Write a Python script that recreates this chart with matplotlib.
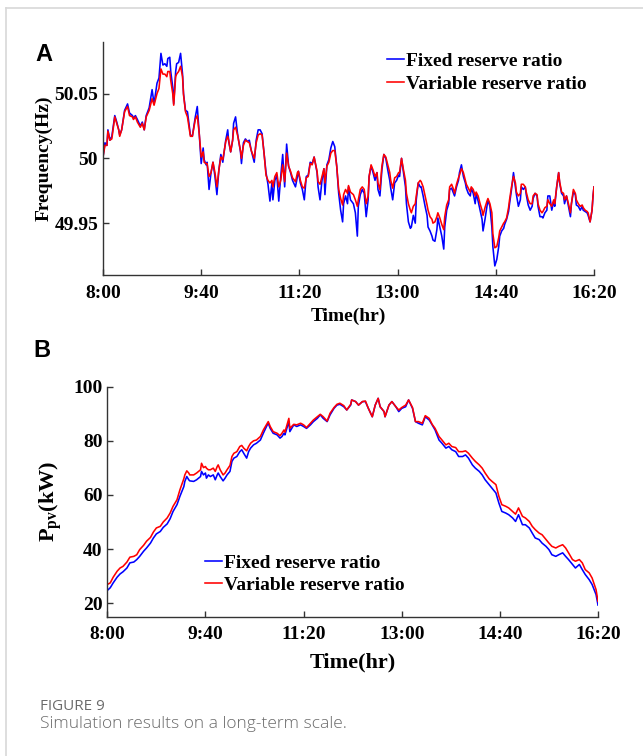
import matplotlib
matplotlib.use("Agg")
import matplotlib.pyplot as plt
from matplotlib.lines import Line2D

# --- dados ---
# minutos desde as 8:00
t_freq = [0, 2, 4, 5, 7, 9, 12, 14, 16, 17, 19, 22, 25, 27, 30, 31, 33, 35, 38, 40,
          42, 44, 47, 50, 52, 55, 57, 59, 61, 63, 65, 66, 68, 69, 71, 72, 74, 75, 77, 79,
          81, 82, 84, 86, 89, 91, 94, 96, 98, 100, 102, 103, 105, 106, 108, 110, 112, 114, 116, 118,
          120, 122, 125, 127, 128, 130, 132, 133, 135, 137, 140, 141, 143, 145, 147, 149, 151, 154, 156, 158,
          160, 162, 164, 166, 168, 170, 172, 173, 175, 177, 179, 181, 183, 185, 187, 189, 191, 193, 196, 198,
          199, 201, 203, 205, 207, 209, 211, 213, 215, 218, 219, 221, 223, 225, 226, 228, 230, 232, 234, 236,
          238, 240, 242, 244, 245, 247, 249, 250, 252, 255, 257, 259, 260, 262, 264, 266, 268, 270, 271, 273,
          275, 277, 279, 280, 282, 284, 286, 288, 290, 292, 293, 295, 297, 299, 301, 302, 304, 306, 308, 309,
          311, 313, 314, 316, 318, 319, 321, 323, 324, 326, 328, 330, 331, 333, 335, 336, 338, 340, 341, 343,
          345, 347, 348, 350, 352, 353, 355, 357, 358, 360, 362, 363, 365, 367, 369, 370, 372, 374, 375, 377,
          379, 380, 382, 384, 386, 387, 389, 391, 392, 394, 396, 397, 399, 401, 403, 404, 406, 408, 409, 411,
          413, 414, 416, 418, 420, 421, 423, 425, 426, 428, 430, 431, 433, 435, 437, 438, 440, 442, 443, 445,
          447, 448, 450, 452, 453, 455, 457, 459, 460, 462, 464, 465, 467, 469, 470, 472, 474, 476, 477, 479,
          481, 482, 484, 486, 488, 489, 491, 493, 494, 496, 498, 499, 500]

freq_fixed = [50.001, 50.012, 50.010, 50.022, 50.014, 50.017, 50.033, 50.028, 50.022, 50.018,
              50.022, 50.037, 50.042, 50.035, 50.033, 50.031, 50.033, 50.030, 50.025, 50.028,
              50.022, 50.033, 50.039, 50.053, 50.042, 50.058, 50.062, 50.081, 50.072, 50.073,
              50.071, 50.077, 50.078, 50.067, 50.055, 50.042, 50.067, 50.073, 50.074, 50.081,
              50.065, 50.050, 50.037, 50.036, 50.018, 50.017, 50.032, 50.040, 50.019, 49.996,
              50.008, 49.999, 49.995, 49.997, 49.976, 49.989, 49.997, 49.986, 49.972, 49.991,
              50.003, 49.997, 50.014, 50.022, 50.013, 50.005, 50.014, 50.027, 50.032, 50.019,
              50.005, 49.996, 50.012, 50.015, 50.013, 50.014, 50.006, 49.997, 50.014, 50.022,
              50.022, 50.019, 50.004, 49.989, 49.980, 49.967, 49.981, 49.968, 49.983, 49.987,
              49.967, 49.986, 50.003, 49.978, 50.011, 49.994, 49.989, 49.983, 49.978, 49.986,
              49.990, 49.981, 49.976, 49.968, 49.986, 49.987, 49.997, 49.996, 50.001, 49.989,
              49.978, 49.968, 49.983, 49.992, 49.972, 49.995, 49.999, 50.008, 50.013, 50.009,
              49.994, 49.973, 49.960, 49.951, 49.965, 49.971, 49.965, 49.978, 49.968, 49.965,
              49.958, 49.940, 49.963, 49.972, 49.976, 49.973, 49.955, 49.968, 49.986, 49.994,
              49.989, 49.983, 49.989, 49.976, 49.971, 49.991, 50.003, 50.000, 49.991, 49.983,
              49.977, 49.968, 49.981, 49.983, 49.987, 49.986, 50.000, 49.989, 49.978, 49.965,
              49.951, 49.946, 49.947, 49.956, 49.950, 49.968, 49.981, 49.978, 49.978, 49.971,
              49.963, 49.956, 49.947, 49.944, 49.940, 49.937, 49.936, 49.945, 49.954, 49.947,
              49.940, 49.930, 49.947, 49.960, 49.965, 49.976, 49.977, 49.973, 49.971, 49.978,
              49.983, 49.989, 49.995, 49.986, 49.981, 49.977, 49.973, 49.971, 49.977, 49.973,
              49.965, 49.973, 49.967, 49.960, 49.953, 49.944, 49.953, 49.963, 49.968, 49.963,
              49.947, 49.932, 49.917, 49.922, 49.932, 49.940, 49.944, 49.946, 49.949, 49.953,
              49.959, 49.965, 49.976, 49.989, 49.978, 49.972, 49.963, 49.968, 49.978, 49.976,
              49.978, 49.972, 49.964, 49.960, 49.963, 49.969, 49.973, 49.971, 49.963, 49.955,
              49.955, 49.954, 49.958, 49.960, 49.971, 49.971, 49.960, 49.967, 49.963, 49.978,
              49.989, 49.981, 49.973, 49.971, 49.965, 49.971, 49.963, 49.955, 49.965, 49.974,
              49.972, 49.964, 49.963, 49.960, 49.963, 49.960, 49.959, 49.958, 49.956, 49.951,
              49.960, 49.971, 49.978]

freq_var = [50.001, 50.010, 50.010, 50.021, 50.014, 50.015, 50.032, 50.027, 50.022, 50.017,
            50.022, 50.036, 50.040, 50.033, 50.032, 50.030, 50.032, 50.028, 50.024, 50.027,
            50.022, 50.032, 50.037, 50.046, 50.041, 50.050, 50.054, 50.069, 50.065, 50.065,
            50.063, 50.067, 50.067, 50.060, 50.050, 50.041, 50.063, 50.065, 50.067, 50.071,
            50.063, 50.049, 50.036, 50.032, 50.017, 50.017, 50.030, 50.033, 50.019, 50.001,
            50.005, 49.997, 49.996, 49.996, 49.986, 49.989, 49.997, 49.989, 49.978, 49.991,
            50.001, 49.999, 50.013, 50.017, 50.014, 50.005, 50.014, 50.022, 50.024, 50.018,
            50.006, 50.000, 50.010, 50.014, 50.013, 50.012, 50.006, 50.000, 50.012, 50.018,
            50.019, 50.018, 50.004, 49.987, 49.983, 49.981, 49.983, 49.978, 49.986, 49.989,
            49.978, 49.983, 49.995, 49.982, 50.004, 49.994, 49.990, 49.985, 49.982, 49.989,
            49.990, 49.983, 49.978, 49.977, 49.985, 49.986, 49.996, 49.995, 50.001, 49.990,
            49.982, 49.980, 49.986, 49.992, 49.981, 49.994, 49.997, 50.004, 50.006, 50.006,
            49.994, 49.976, 49.969, 49.964, 49.972, 49.976, 49.973, 49.979, 49.974, 49.972,
            49.968, 49.963, 49.968, 49.976, 49.978, 49.976, 49.965, 49.971, 49.986, 49.995,
            49.991, 49.986, 49.989, 49.981, 49.976, 49.994, 50.003, 50.001, 49.995, 49.989,
            49.983, 49.977, 49.985, 49.986, 49.989, 49.989, 50.000, 49.991, 49.983, 49.973,
            49.965, 49.960, 49.958, 49.963, 49.965, 49.971, 49.981, 49.983, 49.982, 49.978,
            49.971, 49.964, 49.960, 49.955, 49.953, 49.950, 49.951, 49.955, 49.958, 49.954,
            49.949, 49.945, 49.955, 49.964, 49.968, 49.978, 49.980, 49.976, 49.973, 49.980,
            49.985, 49.987, 49.992, 49.989, 49.983, 49.980, 49.977, 49.974, 49.978, 49.976,
            49.971, 49.974, 49.971, 49.965, 49.960, 49.956, 49.962, 49.967, 49.969, 49.965,
            49.958, 49.942, 49.931, 49.932, 49.939, 49.944, 49.947, 49.950, 49.951, 49.954,
            49.962, 49.968, 49.978, 49.986, 49.981, 49.974, 49.971, 49.973, 49.980, 49.980,
            49.978, 49.974, 49.968, 49.965, 49.965, 49.971, 49.973, 49.972, 49.965, 49.960,
            49.958, 49.959, 49.962, 49.963, 49.968, 49.965, 49.963, 49.968, 49.965, 49.978,
            49.989, 49.982, 49.974, 49.973, 49.968, 49.971, 49.965, 49.958, 49.965, 49.976,
            49.973, 49.968, 49.965, 49.963, 49.964, 49.962, 49.960, 49.959, 49.958, 49.951,
            49.960, 49.971, 49.978]

t_pv = [0, 3, 6, 10, 13, 16, 20, 23, 27, 30, 33, 37, 40, 44, 47, 50, 54, 57, 61, 64,
        67, 71, 74, 78, 79, 81, 83, 84, 88, 91, 95, 96, 98, 100, 101, 103, 105, 108, 110, 112,
        113, 115, 118, 120, 122, 125, 127, 129, 132, 135, 137, 139, 142, 144, 146, 149, 152, 156, 159, 163,
        164, 166, 169, 173, 176, 178, 180, 181, 185, 186, 190, 193, 197, 200, 203, 207, 210, 214, 217, 220,
        224, 227, 231, 234, 237, 241, 244, 248, 249, 253, 256, 260, 263, 266, 270, 273, 276, 278, 282, 283,
        287, 290, 294, 297, 300, 304, 307, 311, 314, 317, 321, 324, 328, 331, 334, 338, 341, 345, 348, 351,
        355, 358, 362, 365, 368, 372, 375, 379, 382, 385, 389, 392, 396, 399, 402, 406, 409, 413, 416, 419,
        423, 426, 430, 433, 436, 440, 443, 447, 450, 453, 457, 460, 464, 467, 470, 474, 477, 481, 484, 487,
        491, 494, 498, 500]

pv_fixed = [24.7, 25.7, 27.5, 29.6, 30.8, 31.6, 33.0, 34.9, 35.2, 36.1, 37.3, 39.2, 40.4, 42.2, 44.1, 45.6, 46.5, 48.0, 49.3, 51.2,
            53.9, 56.4, 59.5, 63.1, 65.0, 66.8, 65.6, 65.2, 65.0, 65.6, 66.8, 68.7, 67.4, 68.1, 66.2, 67.4, 66.8, 67.4, 65.6, 67.4,
            68.1, 66.8, 65.2, 66.2, 67.4, 68.7, 72.4, 73.6, 74.2, 76.0, 76.7, 75.4, 73.6, 76.0, 77.3, 78.5, 79.1, 80.3, 82.8, 85.9,
            86.5, 84.6, 82.8, 82.2, 81.0, 81.6, 82.8, 82.2, 87.1, 83.4, 85.9, 85.3, 85.9, 85.3, 84.6, 85.9, 87.1, 88.3, 89.6, 88.3,
            87.1, 89.6, 92.0, 93.2, 93.5, 92.6, 91.4, 93.2, 95.1, 94.5, 93.2, 94.5, 94.5, 92.0, 88.9, 93.2, 95.7, 92.6, 90.8, 88.9,
            93.2, 94.5, 92.6, 90.8, 92.0, 92.6, 95.1, 92.0, 87.1, 86.5, 85.9, 88.9, 87.7, 85.9, 84.0, 80.3, 79.1, 77.3, 77.9, 76.7,
            76.0, 74.2, 74.2, 74.8, 73.6, 71.1, 69.9, 68.7, 67.4, 65.6, 63.8, 62.5, 60.7, 57.0, 53.9, 53.3, 52.7, 51.5, 50.2, 52.7,
            49.0, 49.0, 47.8, 45.9, 44.1, 43.5, 42.2, 41.0, 39.8, 37.9, 37.3, 37.9, 38.6, 37.3, 36.1, 34.3, 33.0, 34.3, 32.4, 30.6,
            28.7, 26.9, 23.2, 19.3]

pv_var = [26.9, 27.5, 29.6, 31.8, 33.0, 33.6, 35.2, 37.0, 37.3, 37.9, 39.8, 41.4, 42.9, 44.3, 46.3, 47.8, 48.4, 50.0, 51.5, 53.3,
          55.8, 58.2, 61.9, 66.0, 67.4, 68.9, 68.1, 67.4, 67.4, 68.1, 69.3, 71.7, 70.1, 70.5, 69.9, 69.3, 69.3, 69.9, 68.7, 70.5,
          71.1, 69.3, 67.4, 68.1, 69.3, 70.9, 74.2, 75.4, 76.0, 77.9, 78.3, 77.3, 76.3, 77.9, 79.1, 80.0, 80.3, 81.6, 84.0, 86.5,
          87.1, 85.3, 83.4, 82.8, 81.9, 82.8, 84.0, 83.2, 88.3, 84.6, 86.1, 85.9, 86.5, 85.9, 84.9, 86.5, 87.7, 88.9, 89.8, 88.9,
          87.3, 90.2, 92.3, 93.5, 93.9, 93.0, 91.4, 93.5, 95.1, 94.5, 93.2, 94.5, 94.7, 92.0, 88.9, 93.2, 95.7, 92.6, 90.8, 88.9,
          93.2, 94.5, 92.6, 91.4, 92.3, 93.2, 95.1, 92.3, 87.1, 87.1, 86.5, 89.3, 88.3, 86.1, 84.6, 81.6, 80.3, 78.5, 79.1, 77.9,
          77.5, 76.0, 76.0, 76.3, 75.4, 73.6, 72.4, 71.1, 69.9, 68.1, 66.0, 65.0, 63.8, 59.5, 56.4, 55.8, 55.2, 53.9, 52.9, 55.2,
          52.1, 51.5, 50.2, 48.4, 47.2, 45.9, 45.3, 43.5, 42.2, 41.0, 40.4, 41.0, 41.6, 40.4, 38.6, 36.1, 35.5, 36.1, 34.9, 32.4,
          31.2, 29.3, 25.0, 20.7]

x_ticks = [0, 100, 200, 300, 400, 500]
x_labels = ["8:00", "9:40", "11:20", "13:00", "14:40", "16:20"]
f_ticks = [49.95, 50.0, 50.05]
f_labels = ["49.95", "50", "50.05"]
p_ticks = [20, 40, 60, 80, 100]
series = ["Fixed reserve ratio", "Variable reserve ratio"]

plt.rcParams['font.family'] = 'Liberation Serif'
plt.rcParams['font.weight'] = 'bold'
plt.rcParams['axes.labelweight'] = 'bold'
plt.rcParams['mathtext.fontset'] = 'custom'
plt.rcParams['mathtext.rm'] = 'Liberation Serif:bold'
plt.rcParams['mathtext.it'] = 'Liberation Serif:bold'
plt.rcParams['mathtext.bf'] = 'Liberation Serif:bold'

fig = plt.figure(figsize=(6.43, 7.56), dpi=100)
W, H = 643, 756

# moldura cinza do cartão
fig.add_artist(Line2D([6 / W, 1], [1 - 7.5 / H, 1 - 7.5 / H], color='#d8d8d8', lw=1.2))
fig.add_artist(Line2D([6 / W, 6 / W], [0, 1 - 7.5 / H], color='#d8d8d8', lw=1.2))


def estilo(ax):
    for s in ['top', 'right']:
        ax.spines[s].set_visible(False)
    for s in ['left', 'bottom']:
        ax.spines[s].set_color('#333333')
        ax.spines[s].set_linewidth(1.0)
    ax.tick_params(direction='in', length=4, width=1, color='#333333', labelsize=14)
    ax.tick_params(axis='x', pad=7)
    ax.set_xlim(0, 500)
    ax.set_xticks(x_ticks)
    ax.set_xticklabels(x_labels)


# --- painel A ---
axA = fig.add_axes([103 / W, 1 - 275 / H, 491 / W, 233.3 / H])
estilo(axA)
axA.plot(t_freq, freq_fixed, color='blue', lw=1.15, label=series[0])
axA.plot(t_freq, freq_var, color='red', lw=1.15, label=series[1])
axA.set_ylim(49.91, 50.09)
axA.set_yticks(f_ticks)
axA.set_yticklabels(f_labels)
axA.set_xlabel("Time(hr)", fontsize=14)
axA.set_ylabel("Frequency(Hz)", fontsize=14)
axA.xaxis.set_label_coords(0.5, -0.14)
axA.yaxis.set_label_coords(-0.102, 0.5)
axA.legend(loc='upper left', bbox_to_anchor=(0.578, 0.955), frameon=False, fontsize=14,
           borderpad=0, borderaxespad=0, handlelength=0.9, handletextpad=0.1, labelspacing=0.28)

# --- painel B ---
axB = fig.add_axes([107.3 / W, 1 - 616.7 / H, 490.7 / W, 230 / H])
estilo(axB)
axB.plot(t_pv, pv_fixed, color='blue', lw=1.15, label=series[0])
axB.plot(t_pv, pv_var, color='red', lw=1.15, label=series[1])
axB.set_ylim(15, 100)
axB.set_yticks(p_ticks)
axB.set_xlabel("Time(hr)", fontsize=16)
axB.set_ylabel(r"P$_{\mathrm{pv}}$(kW)", fontsize=16)
axB.xaxis.set_label_coords(0.5, -0.155)
axB.yaxis.set_label_coords(-0.088, 0.5)
axB.legend(loc='upper left', bbox_to_anchor=(0.199, 0.27), frameon=False, fontsize=14,
           borderpad=0, borderaxespad=0, handlelength=0.9, handletextpad=0.1, labelspacing=0.2)

# letras dos painéis
fig.text(35 / W, 1 - 61 / H, "A", family='Liberation Sans', weight='bold', fontsize=17, va='baseline')
fig.text(33 / W, 1 - 357 / H, "B", family='Liberation Sans', weight='bold', fontsize=17, va='baseline')

# legenda da figura
fig.text(40 / W, 1 - 709.5 / H, "FIGURE 9", family='Open Sans', weight='normal', fontsize=11,
         color='#6b6b6b', va='baseline')
fig.text(40 / W, 1 - 728 / H, "Simulation results on a long-term scale.", family='Open Sans',
         weight='light', fontsize=12.5, color='#6b6b6b', va='baseline')

fig.savefig("out.png", dpi=100)
